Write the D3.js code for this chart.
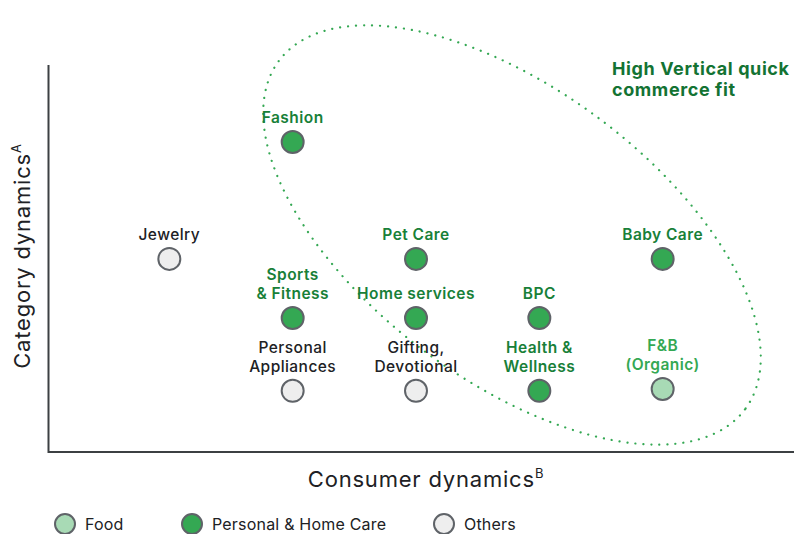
<!DOCTYPE html>
<html><head><meta charset="utf-8">
<script src="https://cdn.jsdelivr.net/npm/d3@7"></script>
<style>
body{margin:0;background:#fff;}
svg{display:block;font-family:Inter, "Open Sans", Roboto, sans-serif;}
</style></head>
<body><svg id="c" width="794" height="534"></svg>
<script>
// ---- data ----
const categories = ["Jewelry","Fashion","Sports & Fitness","Personal Appliances","Pet Care","Home services","Gifting, Devotional","BPC","Health & Wellness","Baby Care","F&B (Organic)"];
const labelLines = [["Jewelry"],["Fashion"],["Sports","& Fitness"],["Personal","Appliances"],["Pet Care"],["Home services"],["Gifting,","Devotional"],["BPC"],["Health &","Wellness"],["Baby Care"],["F&B","(Organic)"]];
const consumerDyn = [1,2,2,2,3,3,3,4,4,5,5];
const categoryDyn = [4.99,8.01,3.46,1.58,4.99,3.46,1.58,3.46,1.58,4.99,1.63];
const groups = ["Others","Personal & Home Care","Personal & Home Care","Others","Personal & Home Care","Personal & Home Care","Others","Personal & Home Care","Personal & Home Care","Personal & Home Care","Food"];
const highFit = [false,true,true,false,true,true,false,true,true,true,true];
const legendGroups = ["Food","Personal & Home Care","Others"];

const svg = d3.select("#c");
const x = d3.scaleLinear().domain([0,6]).range([46, 786]);
const y = d3.scaleLinear().domain([0,10]).range([452, 65]);

const fill = d3.scaleOrdinal().domain(legendGroups).range(["#a8dab5","#34a853","#eeeeee"]);

// fit ellipse
svg.append("ellipse")
  .attr("cx",512).attr("cy",235).attr("rx",291).attr("ry",145.5)
  .attr("transform","rotate(36.8,512,235)")
  .attr("fill","none").attr("stroke","#34a853").attr("stroke-width",2.2)
  .attr("stroke-dasharray","0.1 7.9").attr("stroke-linecap","round");

// axes
const xAxis = d3.axisBottom(x).ticks(0).tickSize(0).tickFormat("");
const yAxis = d3.axisLeft(y).ticks(0).tickSize(0).tickFormat("");
svg.append("g").attr("transform","translate(0,452)").call(xAxis)
  .call(g=>g.select(".domain").attr("d","M48,0H794").attr("stroke","#3c4043").attr("stroke-width",2));
svg.append("g").attr("transform","translate(48.5,0)").call(yAxis)
  .call(g=>g.select(".domain").attr("d","M0,65V453").attr("stroke","#3c4043").attr("stroke-width",2));

// axis titles
const xt = svg.append("text").attr("x",426).attr("y",487).attr("text-anchor","middle")
  .attr("font-size",22).attr("letter-spacing",0.8).attr("fill","#202124");
xt.append("tspan").text("Consumer dynamics");
xt.append("tspan").attr("dy",-9).attr("font-size",13).text("B");
const yt = svg.append("text").attr("transform","translate(30,256) rotate(-90)").attr("text-anchor","middle")
  .attr("font-size",22).attr("letter-spacing",0.8).attr("fill","#202124");
yt.append("tspan").text("Category dynamics");
yt.append("tspan").attr("dy",-9).attr("font-size",13).text("A");

// fit title
const tt = svg.append("text").attr("font-size",18).attr("font-weight",700).attr("letter-spacing",0.6).attr("fill","#137333");
tt.append("tspan").attr("x",612).attr("y",75).text("High Vertical quick");
tt.append("tspan").attr("x",612).attr("y",96).text("commerce fit");

// points
const data = categories.map((c,i)=>({c, lines:labelLines[i], cx:consumerDyn[i], cy:categoryDyn[i], g:groups[i], fit:highFit[i]}));
const pts = svg.append("g").selectAll("g").data(data).join("g");
pts.append("circle").attr("cx",d=>x(d.cx)).attr("cy",d=>y(d.cy)).attr("r",11)
  .attr("fill",d=>fill(d.g)).attr("stroke","#5f6368").attr("stroke-width",2);
pts.each(function(d){
  const n = d.lines.length;
  const t = d3.select(this).append("text").attr("text-anchor","middle")
    .attr("font-size",15.5).attr("letter-spacing",0.45).attr("font-weight",d.fit?600:500)
    .attr("fill", d.g==="Food" ? "#34a853" : (d.fit ? "#188038" : "#202124"));
  d.lines.forEach((l,k)=>{
    t.append("tspan").attr("x",x(d.cx)).attr("y",y(d.cy)-19-(n-1-k)*18.6).text(l);
  });
});

// legend
const lg = svg.append("g").selectAll("g").data(legendGroups).join("g")
  .attr("transform",(d,i)=>`translate(${[65,192,444][i]},524)`);
lg.append("circle").attr("r",10).attr("fill",d=>fill(d)).attr("stroke","#5f6368").attr("stroke-width",2);
lg.append("text").attr("x",20).attr("y",6).attr("font-size",16).attr("letter-spacing",0.2).attr("fill","#202124").text(d=>d);
</script></body></html>
